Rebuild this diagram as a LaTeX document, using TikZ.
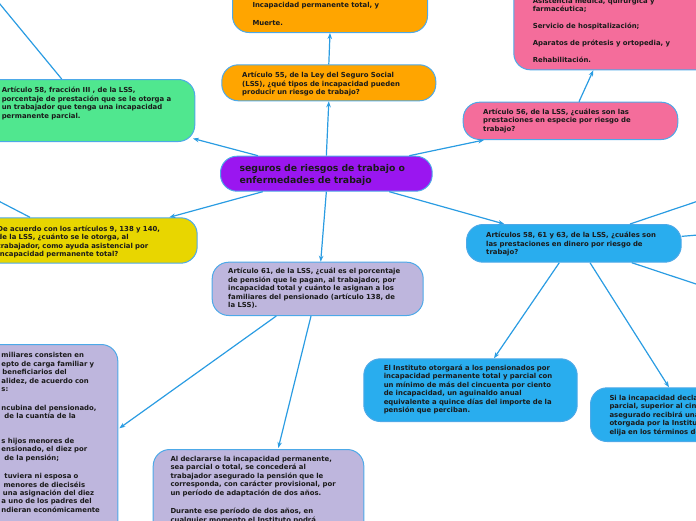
\documentclass[tikz,border=0pt]{standalone}
\usepackage{fontspec}
\setmainfont{DejaVu Sans}
\usetikzlibrary{arrows.meta}

\definecolor{bordercol}{HTML}{4DA9E8}
\definecolor{linkcol}{HTML}{2A9CE2}
\definecolor{textcol}{HTML}{1A1A1A}
\definecolor{orangefill}{HTML}{FFA500}
\definecolor{pinkfill}{HTML}{F46D9B}
\definecolor{greenfill}{HTML}{50E78F}
\definecolor{purplefill}{HTML}{9A16F0}
\definecolor{yellowfill}{HTML}{E8D600}
\definecolor{lavenderfill}{HTML}{BEB6DD}
\definecolor{bluefill}{HTML}{29ADEE}

\tikzset{
  topic/.style={draw=bordercol, line width=1pt, rounded corners=16.5pt,
    anchor=north west, inner ysep=0pt, align=left, text=textcol,
    font={\bfseries\fontsize{6.9}{8.4}\selectfont}},
  link/.style={draw=linkcol, line width=1.2pt},
}

\begin{document}
\begin{tikzpicture}[x=1pt, y=-1pt, >={Stealth[length=6pt,width=4.5pt]}]
    \useasboundingbox (0,0) rectangle (696,520);
    \clip (0,0) rectangle (696,520);

    % Central topic
    \node[topic, fill=purplefill, inner xsep=19pt, text width=173.7pt,
      text height=15pt, text depth=20pt,
      font={\bfseries\fontsize{9.3}{12}\selectfont}] (ctr) at (220,155.7)
      {seguros de riesgos de trabajo o\\enfermedades de trabajo};

    % Upper branches
    \node[topic, fill=orangefill, inner xsep=20.4pt, text width=173.2pt,
      text height=13pt, text depth=23pt] (art55) at (221.3,64.3)
      {Artículo 55, de la Ley del Seguro Social\\(LSS), ¿qué tipos de incapacidad pueden\\producir un riesgo de trabajo?};
    \node[topic, fill=orangefill, inner xsep=20pt, text width=155pt,
      text height=37.3pt, text depth=24.7pt] (tipos) at (232,-30)
      {Incapacidad permanente total, y\\[9.3pt]Muerte.};
    \node[topic, fill=pinkfill, inner xsep=20pt, text width=174.6pt,
      text height=12.3pt, text depth=25pt] (art56) at (462.7,101.7)
      {Artículo 56, de la LSS, ¿cuáles son las\\prestaciones en especie por riesgo de\\trabajo?};
    \node[topic, fill=pinkfill, inner xsep=19pt, text width=208.7pt,
      text height=32.7pt, text depth=66.6pt] (especie) at (513.3,-30)
      {Asistencia médica, quirúrgica y\\farmacéutica;\\[8.6pt]Servicio de hospitalización;\\[8.3pt]Aparatos de prótesis y ortopedia, y\\[8.6pt]Rehabilitación.};
    \node[topic, fill=greenfill, inner xsep=20pt, text width=173pt,
      text height=13.3pt, text depth=48.7pt] (art58) at (-18.7,79)
      {Artículo 58, fracción III , de la LSS,\\porcentaje de prestación que se le otorga a\\un trabajador que tenga una incapacidad\\permanente parcial.};

    % Lower branches
    \node[topic, fill=yellowfill, inner xsep=20pt, text width=179.7pt,
      text height=13.4pt, text depth=32pt] (ayuda) at (-23,217.3)
      {De acuerdo con los artículos 9, 138 y 140,\\de la LSS, ¿cuánto se le otorga, al\\trabajador, como ayuda asistencial por\\incapacidad permanente total?};
    \node[topic, fill=lavenderfill, inner xsep=16pt, text width=179pt,
      text height=11.6pt, text depth=41.7pt] (art61) at (211.7,261.7)
      {Artículo 61, de la LSS, ¿cuál es el porcentaje\\de pensión que le pagan, al trabajador, por\\incapacidad total y cuánto le asignan a los\\familiares del pensionado (artículo 138, de\\la LSS).};
    \node[topic, fill=lavenderfill, inner xsep=17pt, text width=99.3pt,
      text height=13.3pt, text depth=216pt] (asign) at (-16,344)
      {miliares consisten en\\epto de carga familiar y\\\hspace*{1pt}beneficiarios del\\alidez, de acuerdo con\\s:\\[10.3pt]ncubina del pensionado,\\\hspace*{3pt}de la cuantía de la\\[16.3pt]s hijos menores de\\ensionado, el diez por\\\hspace*{3pt}de la pensión;\\[10.3pt]\hspace*{3pt}tuviera ni esposa o\\\hspace*{2pt}menores de dieciséis\\\hspace*{1.5pt}una asignación del diez\\a uno de los padres del\\ndieran económicamente};
    \node[topic, fill=lavenderfill, inner xsep=17.3pt, text width=176pt,
      text height=12pt, text depth=120pt] (provis) at (152.7,449)
      {Al declararse la incapacidad permanente,\\sea parcial o total, se concederá al\\trabajador asegurado la pensión que le\\corresponda, con carácter provisional, por\\un período de adaptación de dos años.\\[10.3pt]Durante ese período de dos años, en\\cualquier momento el Instituto podrá};
    \node[topic, fill=bluefill, inner xsep=19.7pt, text width=175.3pt,
      text height=13.3pt, text depth=24.4pt] (dinero) at (466,224)
      {Artículos 58, 61 y 63, de la LSS, ¿cuáles son\\las prestaciones en dinero por riesgo de\\trabajo?};
    \node[topic, fill=bluefill, inner xsep=20pt, text width=173.4pt,
      text height=11.7pt, text depth=51pt] (aguin) at (363.3,358.3)
      {El Instituto otorgará a los pensionados por\\incapacidad permanente total y parcial con\\un mínimo de más del cincuenta por ciento\\de incapacidad, un aguinaldo anual\\equivalente a quince días del importe de la\\pensión que perciban.};
    \node[topic, fill=bluefill, inner xsep=19pt, text width=232pt,
      text height=12.7pt, text depth=41pt] (parcial) at (590,387.3)
      {Si la incapacidad declarada es permanente\\parcial, superior al cincuenta por ciento, el\\asegurado recibirá una pensión que será\\otorgada por la Institución de seguros que\\elija en los términos de la fracción anterior.};

    % Free ends outside the frame
    \coordinate (gout) at (-10,-8);
    \coordinate (yout) at (-10,196.6);
    \coordinate (dout1) at (706,198.4);
    \coordinate (dout2) at (706,234.3);
    \coordinate (dout3) at (706,287.3);

    % Connections
    \draw[link, ->] ([xshift=38pt]ctr.north west) -- ([xshift=-2.3pt, yshift=3.5pt]art58.south east);
    \draw[link, ->] (ctr.north) -- (art55.south);
    \draw[link, ->] (art55.north) -- (tipos.south);
    \draw[link, ->] ([xshift=-23.4pt]ctr.north east) -- ([xshift=21.3pt]art56.south west);
    \draw[link, ->] ([xshift=116.3pt]art56.north west) -- ([xshift=80pt]especie.south west);
    \draw[link, ->] ([xshift=80.4pt]art58.north west) -- (gout);
    \draw[link, ->] ([xshift=42.7pt]ctr.south west) -- ([xshift=-28.4pt]ayuda.north east);
    \draw[link, ->] ([xshift=53pt]ayuda.north west) -- (yout);
    \draw[link, ->] (ctr.south) -- ([xshift=3pt]art61.north);
    \draw[link, ->] ([xshift=64.6pt]art61.south west) -- ([xshift=1pt, yshift=-84.3pt]asign.north east);
    \draw[link, ->] ([xshift=99.3pt]art61.south west) -- ([xshift=125.6pt, yshift=1pt]provis.north west);
    \draw[link, ->] ([xshift=-43.4pt]ctr.south east) -- ([xshift=38.3pt]dinero.north west);
    \draw[link, ->] ([xshift=93.3pt]dinero.south west) -- ([xshift=130.7pt]aguin.north west);
    \draw[link, ->] ([xshift=124pt]dinero.south west) -- ([xshift=79pt]parcial.north west);
    \draw[link, ->] ([xshift=164pt]dinero.north west) -- (dout1);
    \draw[link, ->] ([yshift=7pt]dinero.east) -- (dout2);
    \draw[link, ->] ([xshift=165.7pt]dinero.south west) -- (dout3);
\end{tikzpicture}
\end{document}
